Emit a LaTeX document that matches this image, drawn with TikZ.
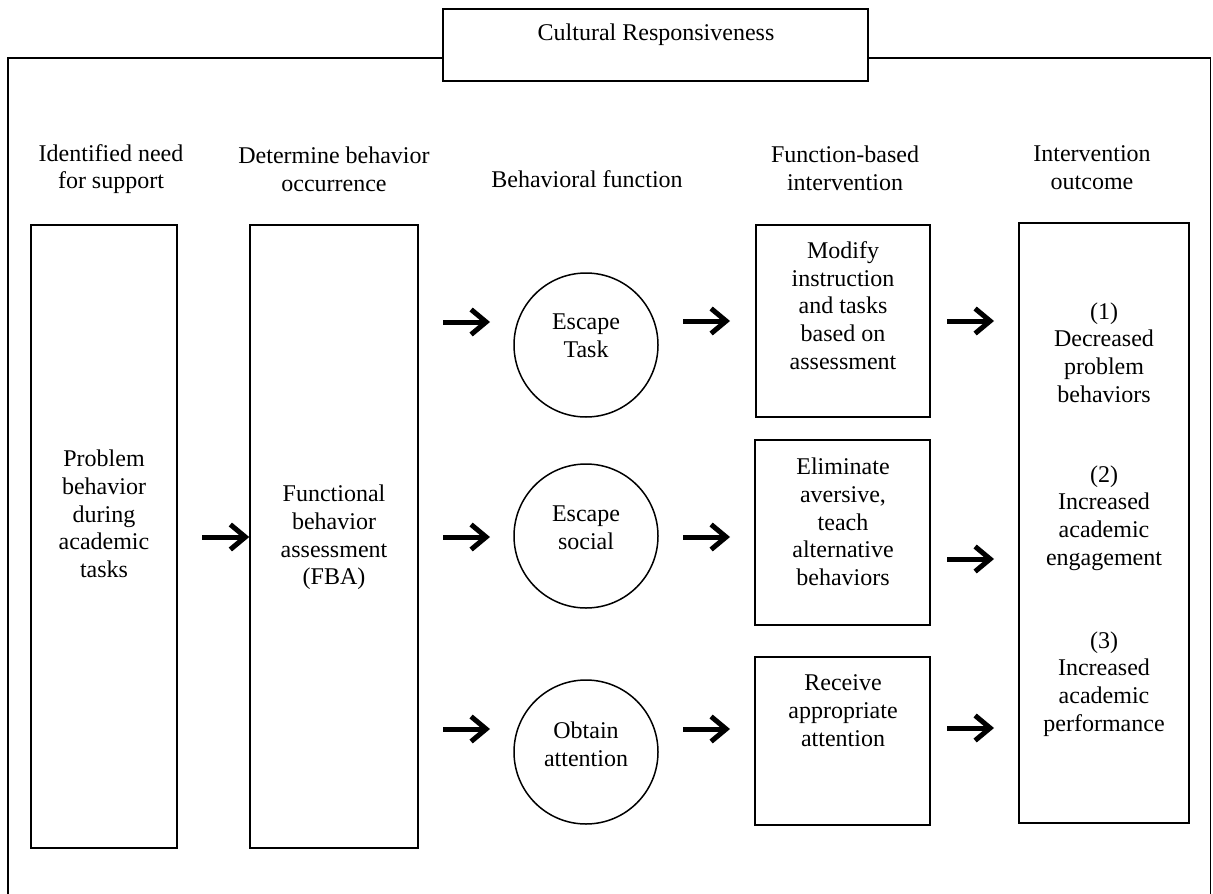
\documentclass[tikz,border=0pt]{standalone}
\usepackage{fontspec}
\setmainfont{Liberation Serif}
\usetikzlibrary{arrows.meta}
\begin{document}
\begin{tikzpicture}[x=1pt,y=-1pt,
  every node/.style={font=\fontsize{24}{27.7}\selectfont, inner sep=0pt, align=center},
  edge/.style={line width=1.5pt},
  panel/.style={draw, line width=1.5pt, minimum width=#1},
  bubble/.style={draw, circle, line width=1.5pt, minimum size=144pt},
  label/.style={},
  bigarrow/.style={line width=5pt, -{Straight Barb[length=15pt,width=25pt]}}]
\useasboundingbox (0,0) rectangle (1213,894);

% outer frame, open at the bottom, interrupted by the title box
\node[panel=425pt, minimum height=72pt] (title) at (655.5,45) {};
\node[label] (ttitle) at (656,35) {Cultural Responsiveness};
\coordinate (fl) at (8,894);
\coordinate (ftl) at (8,58);
\coordinate (ftr) at (1210.5,58);
\coordinate (fr) at (1210.5,894);
\draw[edge] (fl) -- (ftl) -- (title.west |- ftl);
\draw[edge] (title.east |- ftr) -- (ftr) -- (fr);

% column headings
\node[label] (h1) at (111,169) {Identified need\\for support};
\node[label] (h2) at (334,169) {Determine behavior\\occurrence};
\node[label] (h3) at (587,179) {Behavioral function};
\node[label] (h4) at (845,168) {Function-based\\intervention};
\node[label] (h5) at (1092,168) {Intervention\\outcome};

% column 1 and 2
\node[panel=146pt, minimum height=623pt] (need) at (104,536.5) {};
\node[label] (tneed) at (104,514) {Problem\\behavior\\during\\academic\\tasks};
\node[panel=168pt, minimum height=623pt] (fba) at (334,536.5) {};
\node[label] (tfba) at (334,537.5) {Functional\\behavior\\assessment\\(FBA)};

% behavioral functions
\node[bubble] (esctask) at (586,345) {};
\node[label] (tesctask) at (586,336) {Escape\\Task};
\node[bubble] (escsoc) at (586,536) {};
\node[label] (tescsoc) at (586,527.5) {Escape\\social};
\node[bubble] (obtain) at (586,752) {};
\node[label] (tobtain) at (586,744) {Obtain\\attention};

% interventions
\node[panel=174pt, minimum height=192pt] (modify) at (843,321) {};
\node[label] (tmodify) at (843,305.5) {Modify\\instruction\\and tasks\\based on\\assessment};
\node[panel=175pt, minimum height=185pt] (elim) at (842.5,532.5) {};
\node[label] (telim) at (843,522) {Eliminate\\aversive,\\teach\\alternative\\behaviors};
\node[panel=175pt, minimum height=168pt] (receive) at (842.5,741) {};
\node[label] (treceive) at (843,710.5) {Receive\\appropriate\\attention};

% outcomes
\node[panel=170pt, minimum height=600pt] (outcome) at (1104,523) {};
\node[label] (tout1) at (1104,352.5) {(1)\\Decreased\\problem\\behaviors};
\node[label] (tout2) at (1104,518) {(2)\\Increased\\academic\\engagement};
\node[label] (tout3) at (1104,684) {(3)\\Increased\\academic\\performance};

% arrows
\coordinate (a0s) at (202,537);
\draw[bigarrow] (a0s) -- (fba.west |- a0s);
\coordinate (a1s) at (443,322); \coordinate (a1e) at (490,322);
\coordinate (a2s) at (443,537); \coordinate (a2e) at (490,537);
\coordinate (a3s) at (443,729); \coordinate (a3e) at (490,729);
\draw[bigarrow] (a1s) -- (a1e);
\draw[bigarrow] (a2s) -- (a2e);
\draw[bigarrow] (a3s) -- (a3e);
\coordinate (b1s) at (683,321); \coordinate (b1e) at (730,321);
\coordinate (b2s) at (683,537); \coordinate (b2e) at (730,537);
\coordinate (b3s) at (683,729); \coordinate (b3e) at (730,729);
\draw[bigarrow] (b1s) -- (b1e);
\draw[bigarrow] (b2s) -- (b2e);
\draw[bigarrow] (b3s) -- (b3e);
\coordinate (c1s) at (947,321); \coordinate (c1e) at (994,321);
\coordinate (c2s) at (947,559); \coordinate (c2e) at (994,559);
\coordinate (c3s) at (947,728); \coordinate (c3e) at (994,728);
\draw[bigarrow] (c1s) -- (c1e);
\draw[bigarrow] (c2s) -- (c2e);
\draw[bigarrow] (c3s) -- (c3e);
\end{tikzpicture}
\end{document}
